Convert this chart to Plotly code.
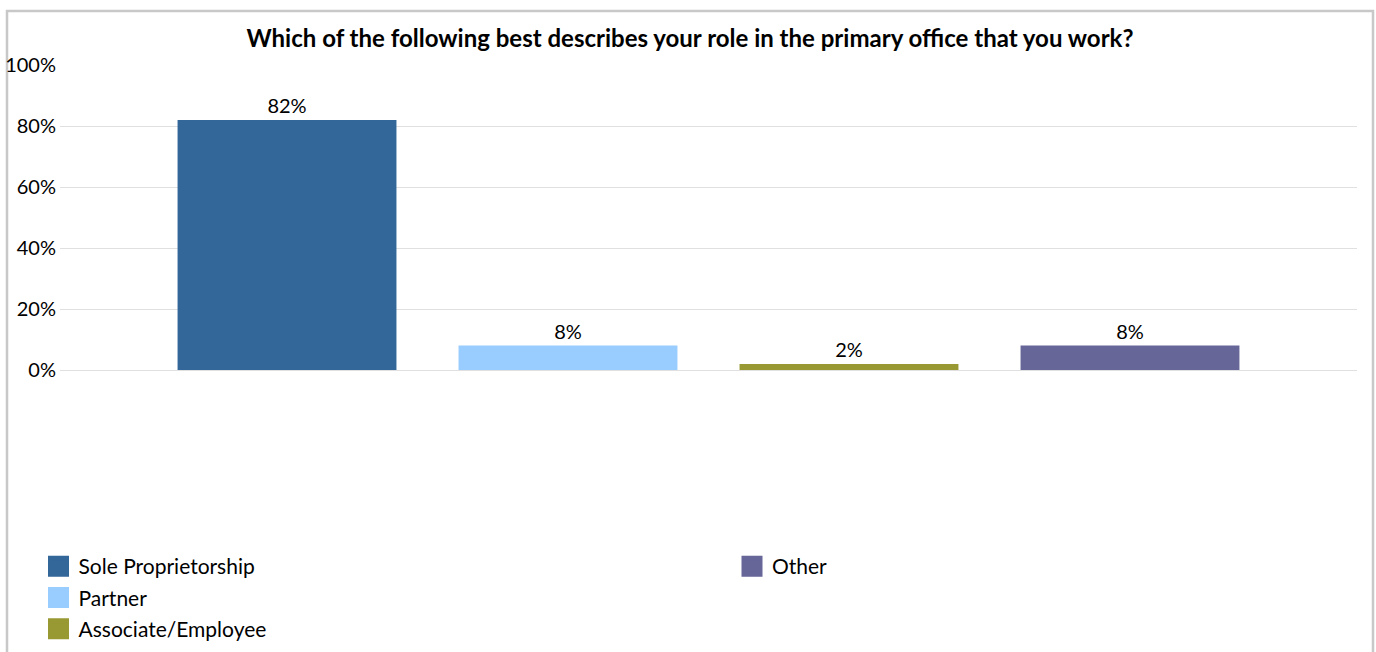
import plotly.graph_objects as go

# Survey answers (share of respondents, %)
roles = ["Sole Proprietorship", "Partner", "Associate/Employee", "Other"]
shares = [82, 8, 2, 8]
colors = ["#336699", "#99ccff", "#999933", "#666699"]
legend_ids = ["legend", "legend", "legend", "legend2"]

y_ticks = [0, 20, 40, 60, 80, 100]
y_tick_labels = ["0%", "20%", "40%", "60%", "80%", "100%"]

title_text = "Which of the following best describes your role in the primary office that you work?"

FONT = "Lato"
W, H = 1376, 652
L, R, T, B = 60, 19, 65, 282

fig = go.Figure()

# one bar trace per role, grouped within a single category
for role, val, col in zip(roles, shares, colors):
    fig.add_trace(go.Bar(
        x=["role"], y=[val], name=role,
        marker=dict(color=col, line=dict(width=0)),
        text=[f"{val}%"], textposition="outside",
        textfont=dict(family=FONT, size=20, color="#000000"),
        cliponaxis=False, showlegend=False, legendgroup=role,
        hoverinfo="name+y",
    ))

# legend swatches (larger squares than the default bar swatch)
for role, col, lg in zip(roles, colors, legend_ids):
    fig.add_trace(go.Scatter(
        x=[None], y=[None], mode="markers", name=role,
        marker=dict(symbol="square", size=16, color=col,
                    line=dict(color=col, width=5)),
        legend=lg, legendgroup=role, showlegend=True,
    ))

pw = W - L - R
ph = H - T - B

def px_x(p):
    return (p - L) / pw

def px_y(p):
    return (H - B - p) / ph

legend_font = dict(family=FONT, size=21, color="#000000")

fig.update_layout(
    width=W, height=H,
    margin=dict(l=L, r=R, t=T, b=B, pad=0, autoexpand=False),
    paper_bgcolor="#ffffff", plot_bgcolor="#ffffff",
    barmode="group", bargap=0.1334, bargroupgap=0.221,
    title=dict(text=f"<b>{title_text}</b>", x=690 / W, xanchor="center",
               y=1 - 39 / H, yanchor="middle", xref="container", yref="container",
               font=dict(family=FONT, size=24, color="#000000")),
    xaxis=dict(type="category", range=[-0.5, 0.5], showticklabels=False,
               showgrid=False, zeroline=False, showline=False, ticks=""),
    yaxis=dict(range=[0, 100], tickvals=y_ticks, ticktext=y_tick_labels,
               showgrid=True, gridcolor="#e0e0e0", gridwidth=1,
               zeroline=True, zerolinecolor="#e0e0e0", zerolinewidth=1,
               showline=False, ticks="", ticklabelstandoff=3,
               tickfont=dict(family=FONT, size=20, color="#000000")),
    legend=dict(orientation="v", xref="container", yref="container",
                x=38.5 / W, xanchor="left", y=1 - 546 / H, yanchor="top",
                font=legend_font, traceorder="grouped", tracegroupgap=1,
                bgcolor="rgba(0,0,0,0)", borderwidth=0),
    legend2=dict(orientation="v", xref="container", yref="container",
                 x=732 / W, xanchor="left", y=1 - 546 / H, yanchor="top",
                 font=legend_font, traceorder="grouped", tracegroupgap=1,
                 bgcolor="rgba(0,0,0,0)", borderwidth=0),
    showlegend=True,
)

# chart frame (open at the bottom edge of the page)
fig.add_shape(type="rect", xref="paper", yref="paper",
              x0=px_x(7), x1=px_x(1373), y0=px_y(670), y1=px_y(11),
              line=dict(color="#c8c8c8", width=2.5), fillcolor="rgba(0,0,0,0)",
              layer="below")

fig.write_html("out.html")
